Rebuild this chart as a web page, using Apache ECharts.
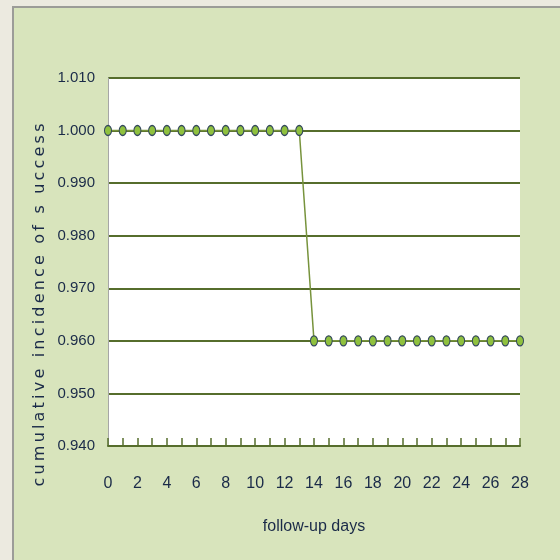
<!DOCTYPE html>
<html>
<head>
<meta charset="utf-8">
<script src="https://cdn.jsdelivr.net/npm/echarts@6/dist/echarts.min.js"></script>
<style>
  html, body { margin: 0; padding: 0; background: #eceae0; overflow: hidden; }
  #frame {
    position: absolute; left: 12px; top: 6px; width: 560px; height: 560px;
    background: #d8e4bc; border-left: 2px solid #9c9c98; border-top: 2px solid #9c9c98;
  }
  #chart { position: absolute; left: 0; top: 0; width: 560px; height: 560px; }
</style>
</head>
<body>
<div id="frame"></div>
<div id="chart"></div>
<script>
// follow-up days 0..28
var days = ['0', '1', '2', '3', '4', '5', '6', '7', '8', '9', '10', '11', '12', '13', '14',
  '15', '16', '17', '18', '19', '20', '21', '22', '23', '24', '25', '26', '27', '28']
// cumulative incidence of success
var incidence = [1.000, 1.000, 1.000, 1.000, 1.000, 1.000, 1.000, 1.000, 1.000, 1.000,
  1.000, 1.000, 1.000, 1.000, 0.960, 0.960, 0.960, 0.960, 0.960, 0.960, 0.960, 0.960,
  0.960, 0.960, 0.960, 0.960, 0.960, 0.960, 0.960]
var xTitle = 'follow-up days'
var yTitle = 'cumulative incidence of s uccess'

var labelFont = '"Liberation Sans", Arial, sans-serif'
var olive = '#566d2c'
var textColor = '#1a2a48'

// spread the y title letters a bit, like the original
var spacedTitle = yTitle.split('').join('\u2009')

var chart = echarts.init(document.getElementById('chart'))
var option = {
  backgroundColor: 'transparent',
  animation: false,
  grid: { left: 108, top: 78, width: 412, height: 368 },
  xAxis: {
    type: 'category',
    data: days,
    boundaryGap: false,
    name: xTitle,
    nameLocation: 'middle',
    nameGap: 73,
    nameTextStyle: { color: textColor, fontSize: 16, fontFamily: labelFont },
    axisLine: { lineStyle: { color: olive, width: 2 } },
    axisTick: { show: true, inside: true, length: 8, interval: 0, lineStyle: { color: olive, width: 1.5 } },
    axisLabel: { interval: 1, margin: 30, color: textColor, fontSize: 16, fontFamily: labelFont },
    splitLine: { show: false }
  },
  yAxis: {
    type: 'value',
    min: 0.94,
    max: 1.01,
    interval: 0.01,
    axisLine: { show: true, lineStyle: { color: '#a6a6a6', width: 1 } },
    axisTick: { show: false },
    axisLabel: {
      margin: 13,
      color: textColor,
      fontSize: 15,
      fontFamily: labelFont,
      formatter: function (v) { return v.toFixed(3) }
    },
    splitLine: { lineStyle: { color: olive, width: 2 } }
  },
  graphic: [
    {
      type: 'rect',
      z: -1,
      shape: { x: 108, y: 78, width: 412, height: 368 },
      style: { fill: '#ffffff' },
      silent: true
    },
    {
      type: 'text',
      x: 40,
      y: 305,
      rotation: Math.PI / 2,
      style: {
        text: spacedTitle,
        fill: textColor,
        font: '16px "DejaVu Sans", sans-serif',
        align: 'center',
        verticalAlign: 'middle'
      }
    }
  ],
  series: [
    {
      type: 'line',
      data: incidence,
      symbol: 'circle',
      symbolSize: [7, 10],
      showAllSymbol: true,
      lineStyle: { color: '#77933c', width: 1.5 },
      itemStyle: { color: '#8fc13e', borderColor: '#33475e', borderWidth: 1.2 }
    }
  ]
}
chart.setOption(option)
</script>
</body>
</html>
